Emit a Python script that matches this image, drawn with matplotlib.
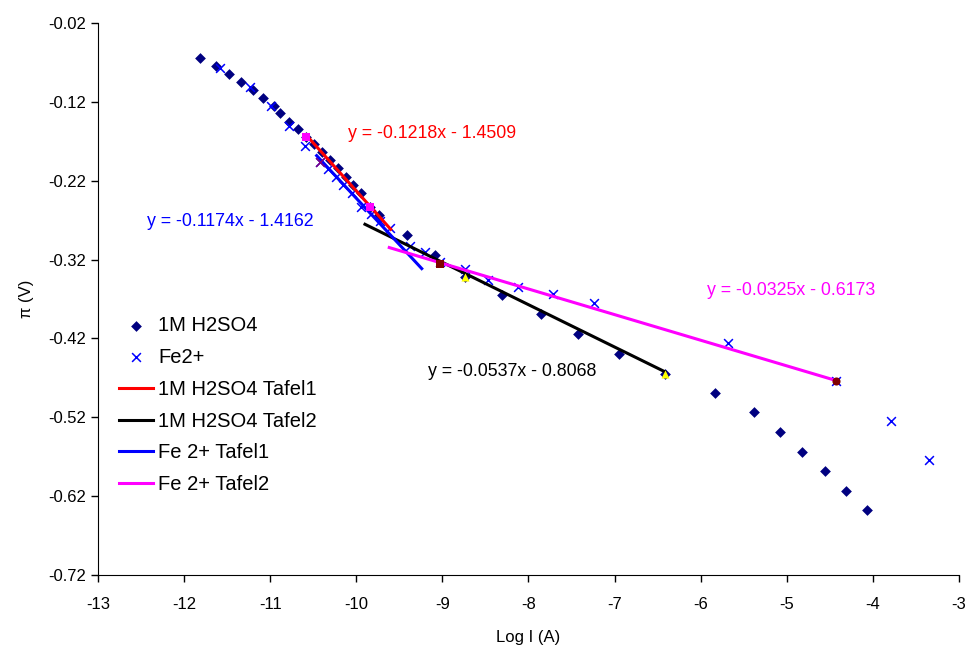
import matplotlib
matplotlib.use("Agg")
import matplotlib.pyplot as plt
import numpy as np

plt.rcParams['font.family'] = ['Liberation Sans', 'DejaVu Sans']
plt.rcParams['axes.unicode_minus'] = False

# 1M H2SO4 data
h2so4_x = [-11.815, -11.63, -11.475, -11.34, -11.20, -11.08, -10.96, -10.886, -10.78, -10.677,
           -10.584, -10.49, -10.395, -10.305, -10.21, -10.123, -10.035, -9.94, -9.84, -9.736,
           -9.415, -9.086, -8.737, -8.31, -7.858, -7.43, -6.946, -6.415, -5.83, -5.381, -5.079,
           -4.82, -4.56, -4.312, -4.065]
h2so4_y = [-0.0647, -0.0745, -0.085, -0.0944, -0.105, -0.1154, -0.1248, -0.1345, -0.145, -0.1547,
           -0.165, -0.1735, -0.184, -0.1936, -0.204, -0.2148, -0.2253, -0.236, -0.2528, -0.264,
           -0.2887, -0.314, -0.3415, -0.3647, -0.389, -0.4146, -0.4395, -0.4649, -0.4886, -0.5134, -0.5388,
           -0.5637, -0.5887, -0.6131, -0.638]

# Fe2+ data
fe_x = [-11.583, -11.235, -10.99, -10.778, -10.596, -10.42, -10.33, -10.24, -10.15, -10.05,
        -9.94, -9.83, -9.72, -9.61, -9.376, -9.2, -9.028, -8.737, -8.467, -8.118,
        -7.72, -7.24, -5.68, -4.429, -3.794, -3.353]
fe_y = [-0.0766, -0.1011, -0.125, -0.150, -0.176, -0.1958, -0.205, -0.215, -0.225, -0.236,
        -0.2528, -0.262, -0.271, -0.2805, -0.3028, -0.3105, -0.323, -0.332, -0.3457, -0.355,
        -0.3639, -0.3745, -0.4256, -0.4746, -0.5244, -0.574]

# Tafel fits: slope, intercept, x-range
tafel_names = ['1M H2SO4 Tafel1', '1M H2SO4 Tafel2', 'Fe 2+ Tafel1', 'Fe 2+ Tafel2']
tafel_slopes = [-0.1218, -0.0537, -0.1174, -0.0325]
tafel_intercepts = [-1.4509, -0.8068, -1.4162, -0.6173]
tafel_xstart = [-10.584, -9.899, -10.46, -9.617]
tafel_xend = [-9.60, -6.415, -9.24, -4.429]
tafel_colors = ['#FF0000', '#000000', '#0000FF', '#FF00FF']
eq_labels = ['y = -0.1218x - 1.4509', 'y = -0.0537x - 0.8068', 'y = -0.1174x - 1.4162', 'y = -0.0325x - 0.6173']
eq_x = [-10.096, -9.167, -12.431, -5.927]
eq_y = [-0.1607, -0.4623, -0.2722, -0.3597]

# End-point markers of Tafel ranges
end_sq_x = [-10.584, -9.84]
end_sq_y = [-0.165, -0.2528]
end_tri_x = [-8.737, -6.415]
end_tri_y = [-0.3415, -0.4649]
end_dr_x = [-9.028]
end_dr_y = [-0.3255]
end_circ_x = [-4.429]
end_circ_y = [-0.4746]
end_purple_x = [-10.42]
end_purple_y = [-0.1958]

fig = plt.figure(figsize=(9.66, 6.52), dpi=100)
ax = fig.add_axes([0.1014, 0.1181, 0.8914, 0.8466])

ax.scatter(h2so4_x, h2so4_y, marker='D', s=30, color='#000080', zorder=3, label='1M H2SO4', linewidths=0)
ax.scatter(fe_x, fe_y, marker='x', s=40, color='#0000FF', linewidths=1.1, zorder=3, label='Fe2+')

for i in range(4):
    xs = np.array([tafel_xstart[i], tafel_xend[i]])
    ys = tafel_slopes[i] * xs + tafel_intercepts[i]
    ax.plot(xs, ys, color=tafel_colors[i], lw=2.2, zorder=4, label=tafel_names[i])
    ax.text(eq_x[i], eq_y[i], eq_labels[i], color=tafel_colors[i], fontsize=12.8,
            ha='left', va='center')

ax.scatter(end_sq_x, end_sq_y, marker='s', s=32, color='#FF00FF', zorder=5, linewidths=0)
ax.scatter(end_tri_x, end_tri_y, marker='^', s=34, color='#FFFF00', zorder=5, linewidths=0)
ax.scatter(end_dr_x, end_dr_y, marker='s', s=32, color='#800000', zorder=5, linewidths=0)
ax.scatter(end_circ_x, end_circ_y, marker='o', s=34, color='#800000', zorder=5, linewidths=0)
ax.scatter(end_purple_x, end_purple_y, marker='x', s=40, color='#800080', linewidths=1.1, zorder=5)

ax.set_xlim(-13, -3)
ax.set_ylim(-0.72, -0.02)
ax.set_xticks(np.arange(-13, -2.5, 1))
yt = np.round(np.arange(-0.72, -0.01, 0.1), 2)
ax.set_yticks(yt)
ax.set_yticklabels(['%.2f' % v for v in yt])
ax.tick_params(direction='out', length=5, labelsize=12, width=1)
ax.tick_params(axis='x', pad=10.5)
for s in ['top', 'right']:
    ax.spines[s].set_visible(False)
ax.set_xlabel('Log I (A)', fontsize=12, labelpad=13)
ax.set_ylabel('π (V)', fontsize=12, labelpad=10)

ax.legend(loc='upper left', bbox_to_anchor=(0.015, 0.484), frameon=False, fontsize=14.5,
          handlelength=1.7, handletextpad=0.25, labelspacing=0.64, borderaxespad=0)

fig.savefig('out.png', dpi=100)
